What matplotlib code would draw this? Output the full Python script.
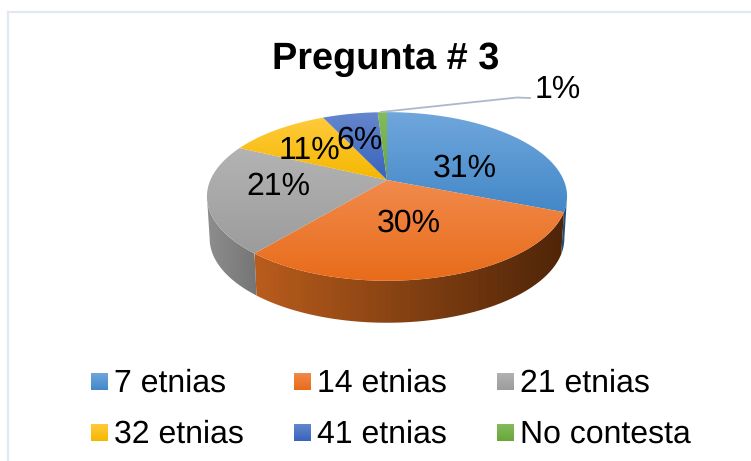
import numpy as np
import matplotlib
matplotlib.use("Agg")
import matplotlib.pyplot as plt
from matplotlib.colors import LinearSegmentedColormap
from matplotlib.patches import Polygon

plt.rcParams["font.family"] = ["Liberation Sans", "DejaVu Sans"]
plt.rcParams["text.hinting"] = "none"

# data
categories = ["7 etnias", "14 etnias", "21 etnias", "32 etnias", "41 etnias", "No contesta"]
values = [31, 30, 21, 11, 6, 1]
labels = ["31%", "30%", "21%", "11%", "6%", "1%"]

# colours: top of slice light/dark, then wall colours at left and right
top_light = ["#70a7dc", "#f18a4c", "#b3b3b3", "#ffca3c", "#6486cc", "#84bb5c"]
top_dark = ["#4488c8", "#e86c1a", "#9c9c9c", "#f5b800", "#3864bc", "#68a63a"]
wall_left = ["#1f4e79", "#b85c1c", "#8e8e8e", "#7f6000", "#203864", "#385723"]
wall_right = ["#1f4e79", "#4f2508", "#757575", "#7f6000", "#203864", "#385723"]

# label anchor: centre x, baseline y
label_pos = [(465, 177), (409, 232), (278, 195), (309, 159), (360, 149), (557.5, 98)]

W, H = 751, 461
CX, CY = 387, 180
A, B, K = 176.6, 46.0, -0.195
DEPTH = 42
BOTTOM_SCALE = 0.985


def project(theta, depth=0.0):
    # clockwise from 12 o'clock, circle seen in perspective
    u, v = np.sin(theta), -np.cos(theta)
    d = 1 + K * v
    scale = 1 - (1 - BOTTOM_SCALE) * depth / DEPTH
    return CX + A * u / d * scale, (CY + B * v) / d + depth


def gradient_fill(ax, poly_xy, c1, c2, horizontal=False, zorder=2):
    cmap = LinearSegmentedColormap.from_list("g", [c1, c2])
    x0, x1 = poly_xy[:, 0].min(), poly_xy[:, 0].max()
    y0, y1 = poly_xy[:, 1].min(), poly_xy[:, 1].max()
    grad = np.linspace(0, 1, 64).reshape(1, -1) if horizontal else np.linspace(0, 1, 64).reshape(-1, 1)
    im = ax.imshow(grad, cmap=cmap, extent=(x0, x1, y1, y0), aspect="auto", zorder=zorder)
    patch = Polygon(poly_xy, closed=True, transform=ax.transData, fc="none", ec="none")
    ax.add_patch(patch)
    im.set_clip_path(patch)


fig = plt.figure(figsize=(7.51, 4.61), dpi=100)
ax = fig.add_axes([0, 0, 1, 1])

edges = np.cumsum([0] + values) / sum(values) * 2 * np.pi

# outer walls first, between the two tangent points of the top face
tangent = np.arccos(K)
for i in range(len(values)):
    lo, hi = max(edges[i], tangent), min(edges[i + 1], 2 * np.pi - tangent)
    if hi <= lo:
        continue
    t = np.linspace(lo, hi, 80)
    xt, yt = project(t)
    xb, yb = project(t, DEPTH)
    wall = np.column_stack([np.r_[xt, xb[::-1]], np.r_[yt, yb[::-1]]])
    gradient_fill(ax, wall, wall_left[i], wall_right[i], horizontal=True, zorder=2)

# top face
for i in range(len(values)):
    t = np.linspace(edges[i], edges[i + 1], 120)
    x, y = project(t)
    face = np.column_stack([np.r_[CX, x], np.r_[CY, y]])
    gradient_fill(ax, face, top_light[i], top_dark[i], zorder=3)

# leader line for the small slice
ax.plot([381, 517, 530], [112, 97.5, 98], color="#adb9ca", lw=1.3, zorder=4)

for lab, (lx, ly) in zip(labels, label_pos):
    ax.text(lx, ly, lab, fontsize=23, ha="center", va="baseline", color="black", zorder=5)

ax.text(386, 69, "Pregunta # 3", fontsize=27.3, fontweight="bold", ha="center", va="baseline", zorder=5)

# legend
leg_x = [91, 294, 497]
leg_y = [381.5, 432.5]
for i, name in enumerate(categories):
    sx = leg_x[i % 3]
    sy = leg_y[i // 3]
    swatch = np.array([[sx, sy - 8.5], [sx + 17, sy - 8.5], [sx + 17, sy + 8.5], [sx, sy + 8.5]])
    gradient_fill(ax, swatch, top_light[i], top_dark[i], zorder=3)
    ax.text(sx + 23, sy + 10.5, name, fontsize=23, ha="left", va="baseline", zorder=5)

# chart frame (right side runs off the picture)
ax.plot([8, 8], [H, 12], color="#e3e8ee", lw=1.6, zorder=1)
ax.plot([8, W], [12, 12], color="#e3e8ee", lw=1.6, zorder=1)

ax.set_xlim(0, W)
ax.set_ylim(H, 0)
ax.axis("off")

fig.savefig("out.png", dpi=100)
